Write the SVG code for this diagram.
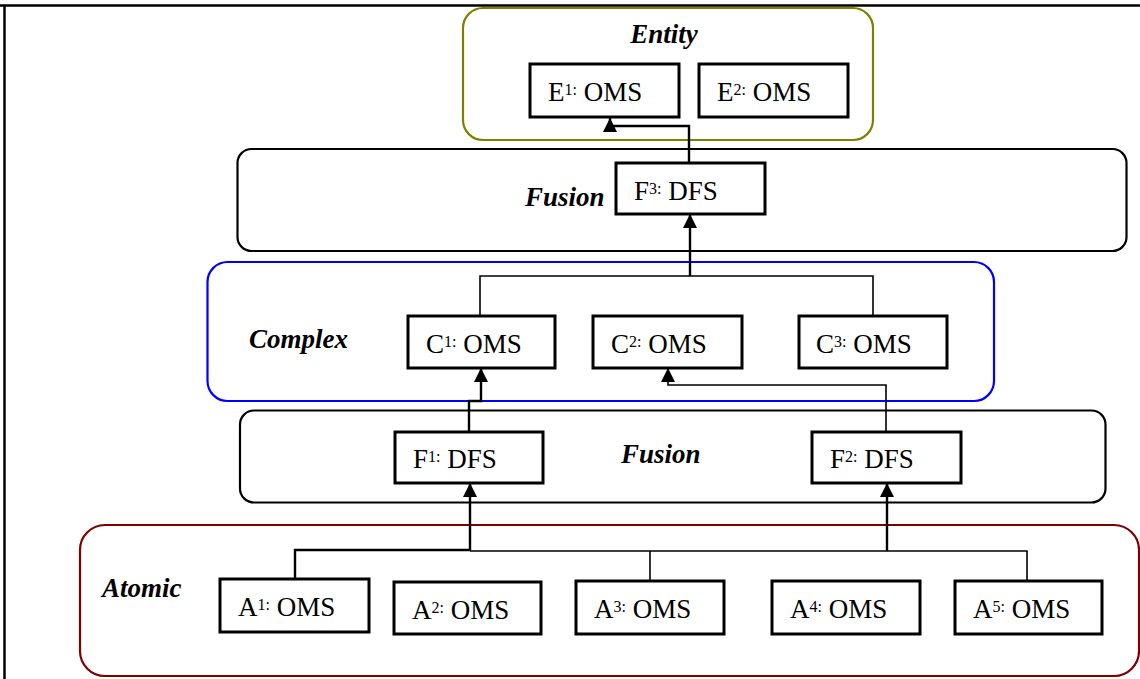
<svg xmlns="http://www.w3.org/2000/svg" width="1140" height="679" viewBox="0 0 1140 679">
<style>
.frame{stroke:#000;stroke-width:2.5;fill:none}
.cont{fill:none;stroke-width:2.2}
.node{fill:#fff;stroke:#000;stroke-width:3}
.t{font-family:'Liberation Serif',Tinos,'Times New Roman',Times,'DejaVu Serif',serif;font-size:27px;fill:#000}
.sup{font-size:16px}
.lbl{font-family:'Liberation Serif',Tinos,'Times New Roman',Times,'DejaVu Serif',serif;font-size:27px;font-weight:bold;font-style:italic;fill:#000}
.ln{fill:none;stroke:#000;stroke-width:1.6}
.ar{fill:none;stroke:#000;stroke-width:2.4}
</style>
<defs>
<marker id="ah" markerUnits="userSpaceOnUse" markerWidth="14" markerHeight="14" refX="14" refY="7" orient="auto">
<path d="M0,0 L14,7 L0,14 z" fill="#000"/>
</marker>
</defs>
<rect width="1140" height="679" fill="#fff"/>
<g id="frame">
<line class="frame" x1="0" y1="5.5" x2="1140" y2="5.5"/>
<line class="frame" x1="4.5" y1="5" x2="4.5" y2="679"/>
</g>
<g id="layer-entity">
<rect class="cont" x="463" y="8" width="410" height="132" rx="20" stroke="#808000"/>
<text class="lbl" x="664" y="43" text-anchor="middle">Entity</text>
</g>
<g id="layer-fusion-top">
<rect class="cont" x="237.5" y="149" width="889" height="102" rx="14" stroke="#000"/>
<text class="lbl" x="525" y="206">Fusion</text>
</g>
<g id="layer-complex">
<rect class="cont" x="207.5" y="262" width="786.5" height="139" rx="20" stroke="#0000FF"/>
<text class="lbl" x="249" y="348">Complex</text>
</g>
<g id="layer-fusion-mid">
<rect class="cont" x="240" y="410.5" width="865.5" height="92" rx="14" stroke="#000"/>
<text class="lbl" x="621" y="463">Fusion</text>
</g>
<g id="layer-atomic">
<rect class="cont" x="80" y="525" width="1059" height="151" rx="25" stroke="#800000"/>
<text class="lbl" x="102" y="597">Atomic</text>
</g>
<g id="connectors">
<path class="ar" d="M689,163 V126 H610 V118" marker-end="url(#ah)"/>
<path class="ln" d="M480,316 V276 H873 V316"/>
<path class="ar" d="M690,276 V214" marker-end="url(#ah)"/>
<path class="ar" d="M469,432 V401 H481 V368" marker-end="url(#ah)"/>
<path class="ln" d="M886,432 V385 H668 V368" marker-end="url(#ah)"/>
<path class="ar" d="M295,579 V550 H470 V483" marker-end="url(#ah)"/>
<path class="ln" d="M470,551 H1027 V581"/>
<path class="ln" d="M650,551 V581"/>
<path class="ar" d="M887,551 V483" marker-end="url(#ah)"/>
</g>
<g id="E1"><rect class="node" x="530" y="64" width="149" height="53"/><text class="t" x="548" y="101">E<tspan class="sup" dy="-6">1:</tspan><tspan dy="6"> OMS</tspan></text></g>
<g id="E2"><rect class="node" x="699" y="64" width="149" height="53"/><text class="t" x="717" y="101">E<tspan class="sup" dy="-6">2:</tspan><tspan dy="6"> OMS</tspan></text></g>
<g id="F3"><rect class="node" x="616" y="163" width="149" height="51"/><text class="t" x="634" y="200">F<tspan class="sup" dy="-6">3:</tspan><tspan dy="6"> DFS</tspan></text></g>
<g id="C1"><rect class="node" x="408" y="316" width="147" height="52"/><text class="t" x="426" y="353">C<tspan class="sup" dy="-6">1:</tspan><tspan dy="6"> OMS</tspan></text></g>
<g id="C2"><rect class="node" x="593" y="316" width="149" height="52"/><text class="t" x="611" y="353">C<tspan class="sup" dy="-6">2:</tspan><tspan dy="6"> OMS</tspan></text></g>
<g id="C3"><rect class="node" x="799" y="316" width="148" height="52"/><text class="t" x="816" y="353">C<tspan class="sup" dy="-6">3:</tspan><tspan dy="6"> OMS</tspan></text></g>
<g id="F1"><rect class="node" x="395" y="432" width="148" height="51"/><text class="t" x="413" y="468">F<tspan class="sup" dy="-6">1:</tspan><tspan dy="6"> DFS</tspan></text></g>
<g id="F2"><rect class="node" x="812" y="432" width="149" height="51"/><text class="t" x="830" y="468">F<tspan class="sup" dy="-6">2:</tspan><tspan dy="6"> DFS</tspan></text></g>
<g id="A1"><rect class="node" x="220" y="579" width="149" height="53"/><text class="t" x="238" y="616">A<tspan class="sup" dy="-6">1:</tspan><tspan dy="6"> OMS</tspan></text></g>
<g id="A2"><rect class="node" x="394" y="582" width="147" height="52"/><text class="t" x="412" y="619">A<tspan class="sup" dy="-6">2:</tspan><tspan dy="6"> OMS</tspan></text></g>
<g id="A3"><rect class="node" x="576" y="581" width="148" height="53"/><text class="t" x="594" y="618">A<tspan class="sup" dy="-6">3:</tspan><tspan dy="6"> OMS</tspan></text></g>
<g id="A4"><rect class="node" x="772" y="581" width="148" height="53"/><text class="t" x="790" y="618">A<tspan class="sup" dy="-6">4:</tspan><tspan dy="6"> OMS</tspan></text></g>
<g id="A5"><rect class="node" x="955" y="581" width="147" height="53"/><text class="t" x="973" y="618">A<tspan class="sup" dy="-6">5:</tspan><tspan dy="6"> OMS</tspan></text></g>
</svg>
